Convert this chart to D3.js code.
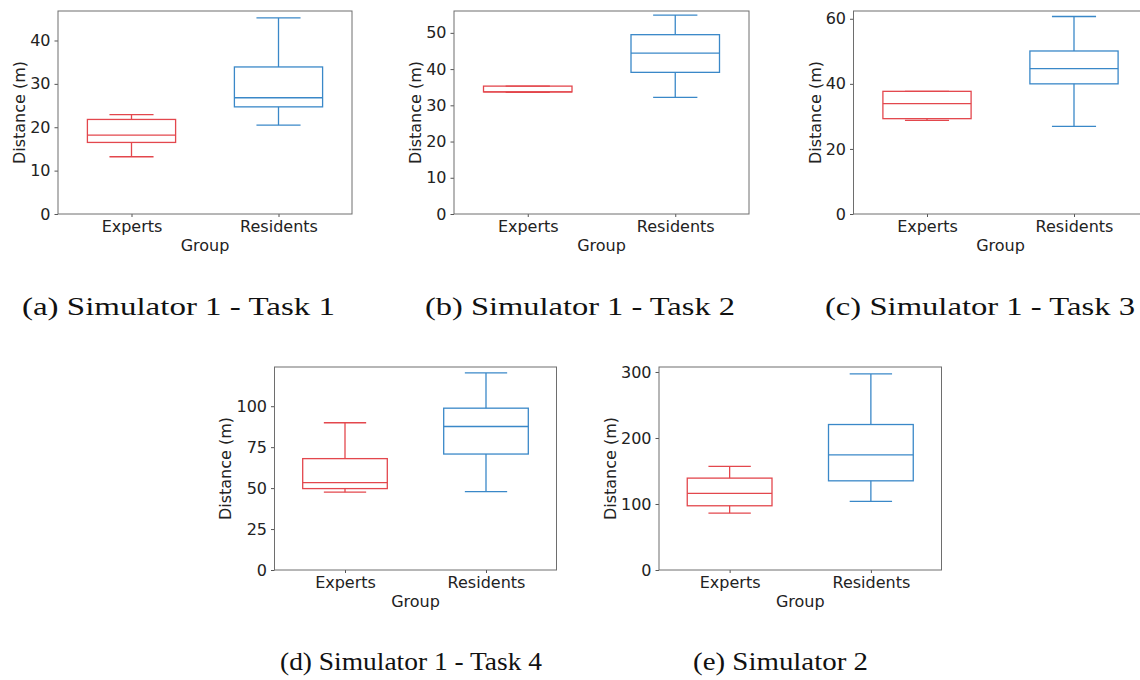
<!DOCTYPE html>
<meta charset="utf-8">
<style>
body { margin: 0; background: #fff; }
svg { font-family: "DejaVu Sans", sans-serif; }
.tick text { font-family: "DejaVu Sans", sans-serif; font-size: 16px; fill: #222; }
.tick line { stroke: #555; }
.frame { fill: none; stroke: #6e6e6e; stroke-width: 1; }
.axis-label { font-size: 16px; fill: #222; }
.caption { font-family: "Liberation Serif", serif; font-size: 26px; fill: #111; }
</style>
<body>
<script src="https://d3js.org/d3.v7.min.js"></script>
<script>
var groups = ["Experts", "Residents"];
var captions = ["(a) Simulator 1 - Task 1", "(b) Simulator 1 - Task 2", "(c) Simulator 1 - Task 3",
                "(d) Simulator 1 - Task 4", "(e) Simulator 2"];

// [whisker low, Q1, median, Q3, whisker high] per panel
var expertsStats = [
  [13.2, 16.5, 18.2, 21.8, 22.9],
  [33.6, 33.7, 33.7, 35.3, 35.3],
  [28.8, 29.3, 33.9, 37.7, 37.7],
  [47.5, 49.7, 53.4, 68.0, 89.9],
  [86.2, 97.3, 116.0, 139.2, 156.9]
];
var residentsStats = [
  [20.5, 24.7, 26.8, 33.9, 45.2],
  [32.2, 39.1, 44.4, 49.5, 54.9],
  [26.9, 40.0, 44.7, 50.1, 60.7],
  [47.9, 70.8, 87.6, 98.8, 120.3],
  [103.9, 135.1, 174.4, 220.4, 297.0]
];
var yTicks = [
  [0, 10, 20, 30, 40],
  [0, 10, 20, 30, 40, 50],
  [0, 20, 40, 60],
  [0, 25, 50, 75, 100],
  [0, 100, 200, 300]
];

var colors = ["#e3474d", "#3a88c8"];

// plot area of each panel, and where its caption sits
var layout = [
  {left: 58,    top: 11,  width: 294, height: 203, cap: [22, 315, 313]},
  {left: 454,   top: 11,  width: 295, height: 203, cap: [425, 315, 310]},
  {left: 853.5, top: 11,  width: 294, height: 203, cap: [825, 315, 310]},
  {left: 274.5, top: 367, width: 282, height: 203, cap: [280, 670, 262]},
  {left: 659,   top: 367, width: 282.5, height: 203, cap: [693, 670, 175]}
];

var svg = d3.select("body").append("svg")
    .attr("width", 1140)
    .attr("height", 680);

layout.forEach(function(L, p) {
  var stats = [expertsStats[p], residentsStats[p]];
  var lo = d3.min(stats, function(s) { return s[0]; }),
      hi = d3.max(stats, function(s) { return s[4]; });

  var x = d3.scalePoint().domain(groups).range([0, L.width]).padding(0.5);
  var y = d3.scaleLinear().domain([0, hi + 0.05 * (hi - lo)]).range([L.height, 0]);

  var g = svg.append("g").attr("transform", "translate(" + L.left + "," + L.top + ")");

  var yAxis = g.append("g").call(d3.axisLeft(y).tickValues(yTicks[p]).tickSize(3.5).tickPadding(4));
  yAxis.select(".domain").remove();

  var xAxis = g.append("g")
      .attr("transform", "translate(0," + L.height + ")")
      .call(d3.axisBottom(x).tickSize(3).tickPadding(3.6));
  xAxis.select(".domain").remove();

  var bw = x.step() * 0.6;

  var box = g.selectAll(".box")
    .data(stats)
    .enter().append("g")
      .attr("class", "box")
      .attr("stroke", function(d, i) { return colors[i]; })
      .attr("stroke-width", 1.3)
      .attr("fill", "none");

  // whiskers
  box.append("line")
      .attr("x1", function(d, i) { return x(groups[i]); })
      .attr("x2", function(d, i) { return x(groups[i]); })
      .attr("y1", function(d) { return y(d[0]); })
      .attr("y2", function(d) { return y(d[1]); });
  box.append("line")
      .attr("x1", function(d, i) { return x(groups[i]); })
      .attr("x2", function(d, i) { return x(groups[i]); })
      .attr("y1", function(d) { return y(d[3]); })
      .attr("y2", function(d) { return y(d[4]); });
  // caps
  [0, 4].forEach(function(k) {
    box.append("line")
        .attr("x1", function(d, i) { return x(groups[i]) - bw / 4; })
        .attr("x2", function(d, i) { return x(groups[i]) + bw / 4; })
        .attr("y1", function(d) { return y(d[k]); })
        .attr("y2", function(d) { return y(d[k]); });
  });
  box.append("rect")
      .attr("x", function(d, i) { return x(groups[i]) - bw / 2; })
      .attr("width", bw)
      .attr("y", function(d) { return y(d[3]); })
      .attr("height", function(d) { return y(d[1]) - y(d[3]); });
  box.append("line")
      .attr("x1", function(d, i) { return x(groups[i]) - bw / 2; })
      .attr("x2", function(d, i) { return x(groups[i]) + bw / 2; })
      .attr("y1", function(d) { return y(d[2]); })
      .attr("y2", function(d) { return y(d[2]); });

  g.append("rect")
      .attr("class", "frame")
      .attr("width", L.width)
      .attr("height", L.height);

  // y label placed past the widest tick label
  var tw = d3.max(yAxis.selectAll("text").nodes(), function(n) { return n.getComputedTextLength(); });
  g.append("text")
      .attr("class", "axis-label")
      .attr("transform", "translate(" + (-7.5 - tw - 5) + "," + (L.height / 2) + ") rotate(-90)")
      .attr("text-anchor", "middle")
      .text("Distance (m)");

  g.append("text")
      .attr("class", "axis-label")
      .attr("x", L.width / 2)
      .attr("y", L.height + 37)
      .attr("text-anchor", "middle")
      .text("Group");

  svg.append("text")
      .attr("class", "caption")
      .attr("x", L.cap[0])
      .attr("y", L.cap[1])
      .attr("textLength", L.cap[2])
      .attr("lengthAdjust", "spacingAndGlyphs")
      .text(captions[p]);
});
</script>
</body>
